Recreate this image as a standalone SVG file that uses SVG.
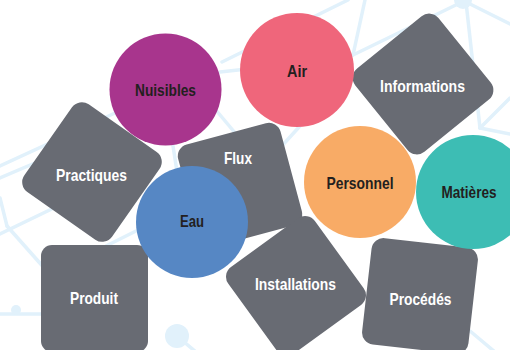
<svg xmlns="http://www.w3.org/2000/svg" width="510" height="350" viewBox="0 0 510 350">
<style>
.net{stroke:#e1f1fb;stroke-width:3.5;fill:none;stroke-linecap:round}
.dot{fill:#e1f1fb}
.sq{fill:#686b73}
.t{font-family:"Liberation Sans",Arial,sans-serif;font-weight:bold;font-size:17px;text-anchor:middle}
.lt{fill:#ffffff}
.dk{fill:#231f20}
</style>
<rect width="510" height="350" fill="#ffffff"/>
<g id="background-network">
<line class="net" x1="222" y1="62" x2="348" y2="0"/>
<line class="net" x1="365" y1="0" x2="353" y2="55"/>
<line class="net" x1="353" y1="55" x2="462" y2="2"/>
<line class="net" x1="466" y1="2" x2="480" y2="128"/>
<line class="net" x1="466" y1="2" x2="510" y2="24"/>
<line class="net" x1="480" y1="128" x2="510" y2="98"/>
<line class="net" x1="480" y1="128" x2="510" y2="134"/>
<line class="net" x1="220" y1="72" x2="256" y2="68"/>
<line class="net" x1="210" y1="103" x2="236" y2="134"/>
<line class="net" x1="280" y1="148" x2="300" y2="126"/>
<line class="net" x1="173" y1="146" x2="178" y2="178"/>
<line class="net" x1="0" y1="166" x2="115" y2="113"/>
<line class="net" x1="0" y1="178" x2="42" y2="160"/>
<line class="net" x1="0" y1="198" x2="7" y2="226"/>
<line class="net" x1="7" y1="226" x2="46" y2="270"/>
<line class="net" x1="0" y1="234" x2="60" y2="205"/>
<line class="net" x1="106" y1="246" x2="136" y2="231"/>
<line class="net" x1="0" y1="314" x2="45" y2="314"/>
<line class="net" x1="177" y1="336" x2="196" y2="352"/>
<line class="net" x1="470" y1="331" x2="495" y2="352"/>
<circle class="dot" cx="16" cy="310" r="5"/>
<circle class="dot" cx="177" cy="336" r="12"/>
<circle class="dot" cx="463" cy="0" r="9"/>
</g>
<g id="connectors"></g>
<g id="informations"><rect class="sq" x="-53.5" y="-53.5" width="107" height="107" rx="12" transform="translate(423 84) rotate(-39)"/><text class="t lt" x="422.5" y="92" textLength="85" lengthAdjust="spacingAndGlyphs">Informations</text></g>
<g id="practiques"><rect class="sq" x="-53.5" y="-53.5" width="107" height="107" rx="12" transform="translate(92 172) rotate(35)"/><text class="t lt" x="91.5" y="181" textLength="71" lengthAdjust="spacingAndGlyphs">Practiques</text></g>
<g id="flux"><rect class="sq" x="-53" y="-53" width="106" height="106" rx="12" transform="translate(240 185) rotate(-15)"/><text class="t lt" x="238" y="164" textLength="28" lengthAdjust="spacingAndGlyphs">Flux</text></g>
<g id="installations"><rect class="sq" x="-53.5" y="-53.5" width="107" height="107" rx="12" transform="translate(296 286) rotate(-36)"/><text class="t lt" x="295.5" y="290" textLength="81" lengthAdjust="spacingAndGlyphs">Installations</text></g>
<g id="produit"><rect class="sq" x="41" y="245" width="107" height="107" rx="11"/><text class="t lt" x="94" y="304" textLength="48" lengthAdjust="spacingAndGlyphs">Produit</text></g>
<g id="procedes"><rect class="sq" x="-53.5" y="-53.5" width="107" height="107" rx="12" transform="translate(420 296) rotate(6.5)"/><text class="t lt" x="420.5" y="305" textLength="62" lengthAdjust="spacingAndGlyphs">Procédés</text></g>
<g id="nuisibles"><circle cx="165.5" cy="89.5" r="56" fill="#a8358d"/><text class="t dk" x="165.5" y="96" textLength="61" lengthAdjust="spacingAndGlyphs">Nuisibles</text></g>
<g id="air"><circle cx="297" cy="70" r="57" fill="#ef667b"/><text class="t dk" x="297" y="76.5" textLength="20" lengthAdjust="spacingAndGlyphs">Air</text></g>
<g id="personnel"><circle cx="360" cy="182" r="56" fill="#f8ab66"/><text class="t dk" x="360" y="188.5" textLength="67" lengthAdjust="spacingAndGlyphs">Personnel</text></g>
<g id="matieres"><circle cx="473" cy="192" r="57" fill="#3dbdb4"/><text class="t dk" x="469" y="197.5" textLength="55" lengthAdjust="spacingAndGlyphs">Matières</text></g>
<g id="eau"><circle cx="192" cy="222" r="56" fill="#5687c4"/><text class="t dk" x="192" y="227" textLength="24" lengthAdjust="spacingAndGlyphs">Eau</text></g>
</svg>
